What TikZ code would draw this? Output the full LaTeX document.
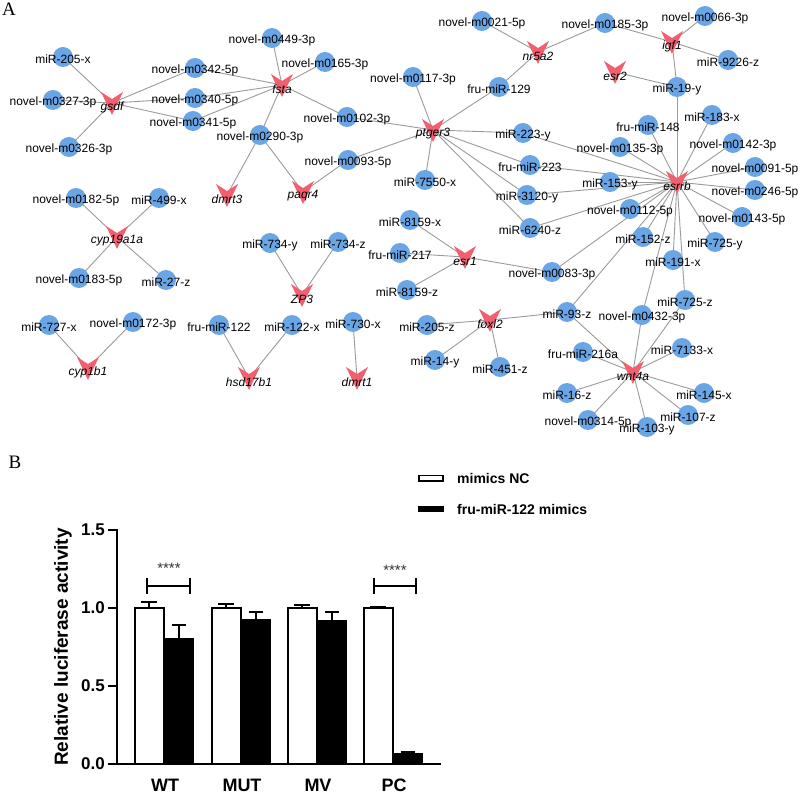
\documentclass[tikz,border=0pt]{standalone}
\usepackage{fontspec}
\setmainfont{Liberation Sans}
\newfontfamily\serifA{Liberation Serif}
\pgfdeclarelayer{bg}
\pgfsetlayers{bg,main}
\definecolor{mirblue}{RGB}{106,165,230}
\definecolor{genered}{RGB}{242,96,112}
\definecolor{edgegray}{RGB}{155,155,155}
\tikzset{
  mir/.style={circle, fill=mirblue, minimum size=20pt, inner sep=0pt},
  gene/.style={inner sep=0pt, minimum size=22pt},
  lab/.style={font=\fontsize{12}{14}\selectfont, inner sep=0pt},
  glab/.style={font=\fontsize{12}{14}\selectfont\itshape, inner sep=0pt},
  edge/.style={draw=edgegray, line width=0.9pt},
  axisline/.style={line width=2pt, line cap=rect},
  barline/.style={line width=2pt},
  ticklab/.style={font=\fontsize{17}{19}\selectfont\bfseries, inner sep=0pt, anchor=east},
  grplab/.style={font=\fontsize{18}{20}\selectfont\bfseries, inner sep=0pt},
  leglab/.style={font=\fontsize{14}{16}\selectfont\bfseries, inner sep=0pt, anchor=west},
  starlab/.style={font=\fontsize{15}{17}\selectfont, inner sep=0pt, text=black!80},
  panellab/.style={font=\fontsize{19}{21}\selectfont\serifA, inner sep=0pt},
}
\def\mirlist{m205x/63/57/miR-205-x, m0327/53/100/novel-m0327-3p, m0326/69/147/novel-m0326-3p,
m0342/195/68/novel-m0342-5p, m0340/195/98/novel-m0340-5p, m0341/193/121/novel-m0341-5p,
m0290/260/135/novel-m0290-3p, m0449/272/38/novel-m0449-3p, m0165/325/62/novel-m0165-3p,
m0102/347/117/novel-m0102-3p, m0117/413/77/novel-m0117-3p, m0093/348/160/novel-m0093-5p,
m7550/425/180/miR-7550-x, m0021/482/21/novel-m0021-5p, f129/499/87/fru-miR-129,
m0185/605/23/novel-m0185-3p, m0066/705/16/novel-m0066-3p, m9226/728/60/miR-9226-z,
m19y/677/87/miR-19-y, f148/648/125/fru-miR-148, m183x/712/115/miR-183-x,
m0135/620/147/novel-m0135-3p, m0142/733/143/novel-m0142-3p, m0091/755/167/novel-m0091-5p,
m153y/610/182/miR-153-y, m0246/755/190/novel-m0246-5p, m223y/523/133/miR-223-y,
f223/530/165/fru-miR-223, m3120/527/195/miR-3120-y, m6240/530/228/miR-6240-z,
m0112/630/209/novel-m0112-5p, m0143/742/217/novel-m0143-5p, m152z/643/237/miR-152-z,
m725y/715/242/miR-725-y, m191x/673/260/miR-191-x, m0083/552/272/novel-m0083-3p,
m725z/685/300/miR-725-z, m93z/567/312/miR-93-z, m0432/642/315/novel-m0432-3p,
m7133/682/348/miR-7133-x, f216a/583/352/fru-miR-216a, m16z/567/393/miR-16-z,
m145x/704/393/miR-145-x, m0314/588/420/novel-m0314-5p, m107z/688/415/miR-107-z,
m103y/647/427/miR-103-y, m8159x/410/220/miR-8159-x, f217/400/253/fru-miR-217,
m8159z/407/290/miR-8159-z, m734y/270/243/miR-734-y, m734z/338/242/miR-734-z,
m122x/292/325/miR-122-x, m730x/353/322/miR-730-x, m205z/427/325/miR-205-z,
m14y/435/360/miR-14-y, m451z/500/367/miR-451-z, m0182/76/198/novel-m0182-5p,
m499x/159/198/miR-499-x, m0183/79/278/novel-m0183-5p, m27z/166/280/miR-27-z,
m727x/49/325/miR-727-x, m0172/133/322/novel-m0172-3p, f122/219/325/fru-miR-122}
\def\genelist{gsdf/112/103/gsdf, fsta/282/85/fsta, dmrt3/227/195/dmrt3, paqr4/303/192/paqr4,
ptger3/433/130/ptger3, nr5a2/538/52/nr5a2, igf1/672/42/igf1, esr2/615/72/esr2,
esrrb/677/182/esrrb, esr1/465/257/esr1, foxl2/490/320/foxl2, wnt4a/633/372/wnt4a,
ZP3/302/295/ZP3, cyp19a1a/117/237/cyp19a1a, cyp1b1/88/368/cyp1b1,
hsd17b1/249/378/hsd17b1, dmrt1/357/378/dmrt1}
\def\edgelist{gsdf/m205x, gsdf/m0327, gsdf/m0326, gsdf/m0342, gsdf/m0340, gsdf/m0341,
fsta/m0342, fsta/m0340, fsta/m0341, fsta/m0449, fsta/m0165, fsta/m0102, fsta/m0290,
dmrt3/m0290, paqr4/m0290, paqr4/m0093,
ptger3/m0102, ptger3/m0117, ptger3/f129, ptger3/m0093, ptger3/m7550, ptger3/m223y,
ptger3/f223, ptger3/m3120, ptger3/m6240,
nr5a2/m0021, nr5a2/f129, nr5a2/m0185,
igf1/m0185, igf1/m0066, igf1/m9226, igf1/m19y, esr2/m19y,
esrrb/m19y, esrrb/f148, esrrb/m183x, esrrb/m0135, esrrb/m0142, esrrb/m0091, esrrb/m153y,
esrrb/m0246, esrrb/m0143, esrrb/m725y, esrrb/m191x, esrrb/m725z, esrrb/m0432, esrrb/m152z,
esrrb/m0112, esrrb/m223y, esrrb/f223, esrrb/m3120, esrrb/m6240, esrrb/m0083, esrrb/m93z,
esr1/m8159x, esr1/f217, esr1/m8159z, esr1/m0083,
foxl2/m205z, foxl2/m14y, foxl2/m451z, foxl2/m93z,
wnt4a/m93z, wnt4a/f216a, wnt4a/m0432, wnt4a/m725z, wnt4a/m7133, wnt4a/m16z, wnt4a/m145x,
wnt4a/m0314, wnt4a/m107z, wnt4a/m103y,
ZP3/m734y, ZP3/m734z, hsd17b1/f122, hsd17b1/m122x, dmrt1/m730x,
cyp1b1/m727x, cyp1b1/m0172,
cyp19a1a/m0182, cyp19a1a/m499x, cyp19a1a/m0183, cyp19a1a/m27z}
\begin{document}
\begin{tikzpicture}[x=1pt,y=-1pt]
\useasboundingbox (0,0) rectangle (798,794);
% ---------- panel A ----------
\node[panellab] (labA) at (9,9) {A};
\foreach \n/\x/\y/\t in \mirlist {\node[mir] (\n) at (\x,\y) {};}
\foreach \n/\x/\y/\t in \genelist {
  \node[gene] (\n) at (\x,\y) {};
  \fill[genered, shift={(\x,\y)}] (-11,-11) -- (0,-4) -- (11,-11) -- (0,12) -- cycle;
}
\foreach \n/\x/\y/\t in \mirlist {\node[lab] (\n-l) at (\x,\y+2) {\t};}
\foreach \n/\x/\y/\t in \genelist {\node[glab] (\n-l) at (\x,\y+4) {\t};}
\begin{pgfonlayer}{bg}
  \fill[white] (0,0) rectangle (798,794);
  \foreach \a/\b in \edgelist {\draw[edge] (\a.center) -- (\b.center);}
\end{pgfonlayer}
% ---------- panel B ----------
\node[panellab] (labB) at (15,462) {B};
% legend
\draw[line width=1.5pt, fill=white] (419,475.5) rectangle (443,481);
\node[leglab] (legNC) at (457,478) {mimics NC};
\fill[black] (418,506) rectangle (444,512);
\node[leglab] (legMi) at (457,509) {fru-miR-122 mimics};
% bars
\foreach \gx/\wv/\we/\bv/\be/\lab in {134/1/1.04/0.81/0.89/WT, 211/1/1.025/0.93/0.975/MUT,
  287/1/1.02/0.925/0.975/MV, 363/1/1.006/0.07/0.078/PC} {
  \draw[barline] (\gx+15,764-156*\wv) -- (\gx+15,764-156*\we);
  \draw[barline] (\gx+7,764-156*\we) -- (\gx+23,764-156*\we);
  \draw[barline, fill=white] (\gx+1,764) rectangle (\gx+30,764-156*\wv);
  \draw[barline] (\gx+45,764-156*\bv) -- (\gx+45,764-156*\be);
  \draw[barline] (\gx+38,764-156*\be) -- (\gx+52,764-156*\be);
  \fill[black] (\gx+30,764) rectangle (\gx+60,764-156*\bv);
  \node[grplab] (g-\lab) at (\gx+31,785) {\lab};
}
% axes
\draw[axisline] (117,530) -- (117,764) -- (440,764);
\foreach \v/\s in {0/0.0, 0.5/0.5, 1/1.0, 1.5/1.5} {
  \draw[line width=2pt] (108,764-156*\v) -- (117,764-156*\v);
  \node[ticklab] (t\s) at (105,764-156*\v) {\s};
}
\node[font=\fontsize{19}{21}\selectfont\bfseries, rotate=90, inner sep=0pt] (ylab) at (63,647) {Relative luciferase activity};
% significance
\draw[line width=2pt] (147,586) -- (190,586);
\draw[line width=2pt] (147,578) -- (147,594);
\draw[line width=2pt] (190,578) -- (190,594);
\node[starlab] (s1) at (169,568) {****};
\draw[line width=2pt] (374,586) -- (416,586);
\draw[line width=2pt] (374,578) -- (374,594);
\draw[line width=2pt] (416,578) -- (416,594);
\node[starlab] (s2) at (395,570) {****};
\end{tikzpicture}
\end{document}
